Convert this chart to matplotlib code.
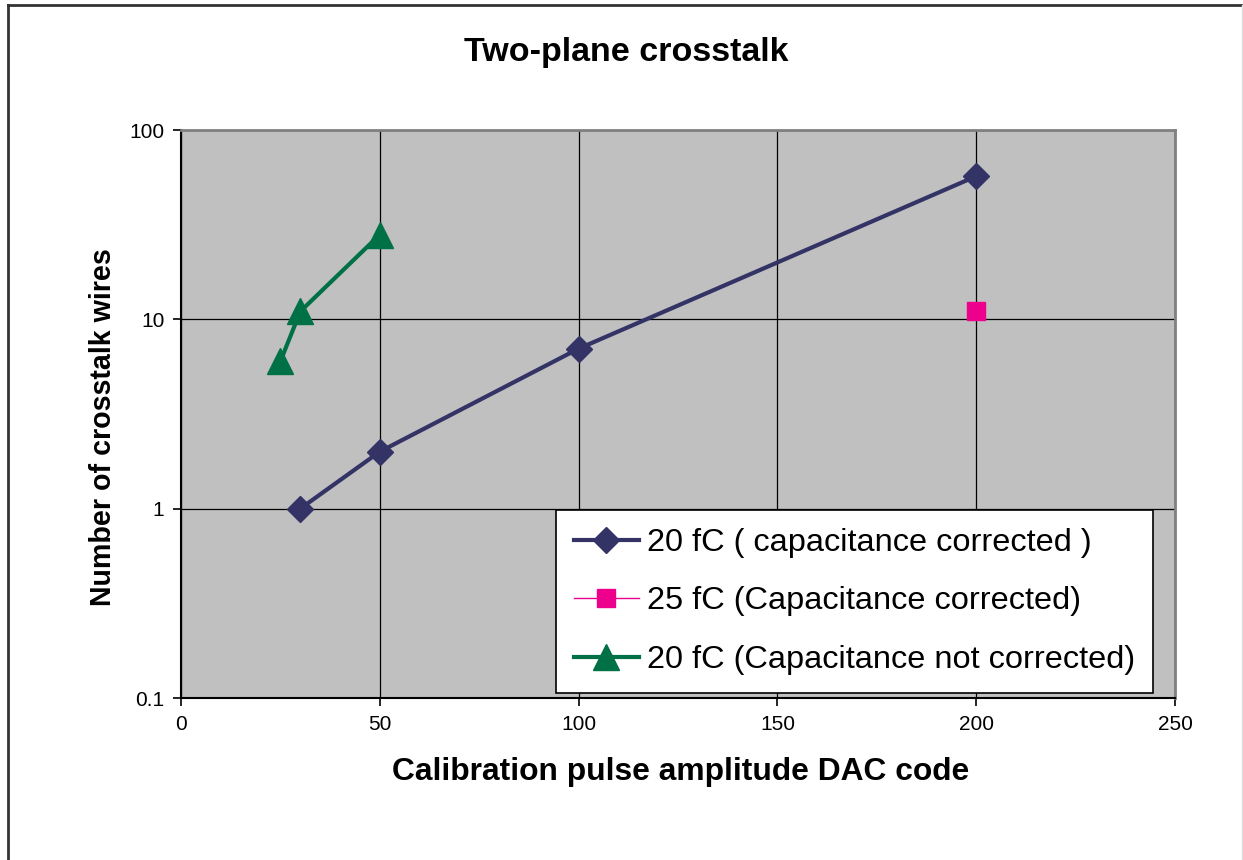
import numpy as np
import matplotlib.pyplot as plt
from matplotlib.lines import Line2D
from matplotlib.ticker import FixedLocator, FuncFormatter, NullLocator

plt.rcParams['font.family'] = ['Liberation Sans', 'DejaVu Sans']

# Data
dac_20_corr = [30, 50, 100, 200]
wires_20_corr = [1, 2, 7, 57]
dac_25_corr = [200]
wires_25_corr = [11]
dac_20_nocorr = [25, 30, 50]
wires_20_nocorr = [6, 11, 28]

x_ticks = [0, 50, 100, 150, 200, 250]
y_ticks = [0.1, 1, 10, 100]

W, H = 1243, 860
fig = plt.figure(figsize=(W / 100, H / 100), dpi=100)

# Axes placed by pixel box
left, right, top, bottom = 181, 1175, 130, 698
ax = fig.add_axes([left / W, 1 - bottom / H, (right - left) / W, (bottom - top) / H])
ax.set_facecolor('#C0C0C0')

ax.plot(dac_20_corr, wires_20_corr, color='#333366', lw=3, marker='D', ms=13,
        label='20 fC ( capacitance corrected )', zorder=3)
ax.plot(dac_25_corr, wires_25_corr, color='#EC008C', lw=1, marker='s', ms=13,
        label='25 fC (Capacitance corrected)', zorder=3)
ax.plot(dac_20_nocorr, wires_20_nocorr, color='#007046', lw=3, marker='^', ms=19,
        label='20 fC (Capacitance not corrected)', zorder=3)

ax.set_yscale('log')
ax.set_xlim(0, 250)
ax.set_ylim(0.1, 100)
ax.xaxis.set_major_locator(FixedLocator(x_ticks))
ax.yaxis.set_major_locator(FixedLocator(y_ticks))
ax.yaxis.set_minor_locator(NullLocator())
ax.yaxis.set_major_formatter(FuncFormatter(lambda v, p: '%g' % v))
ax.tick_params(axis='both', direction='out', length=6, width=1.2, colors='black',
               labelsize=15, pad=6)

# Grid lines
ax.grid(True, which='major', color='black', lw=0.9)
ax.set_axisbelow(True)

# Spines
for s in ['top', 'right']:
    ax.spines[s].set_color('#808080')
    ax.spines[s].set_linewidth(2)
for s in ['left', 'bottom']:
    ax.spines[s].set_color('black')
    ax.spines[s].set_linewidth(1.5)

# Titles and labels
fig.text(626 / W, 1 - 52 / H, 'Two-plane crosstalk', ha='center', va='center',
         fontsize=24.5, fontweight='bold')
fig.text(681 / W, 1 - 772 / H, 'Calibration pulse amplitude DAC code', ha='center',
         va='center', fontsize=22.9, fontweight='bold')
fig.text(103 / W, 1 - 427 / H, 'Number of crosstalk wires', ha='center', va='center',
         rotation=90, fontsize=20.6, fontweight='bold')

# Legend
leg = ax.legend(loc='upper left', bbox_to_anchor=((556 - left) / (right - left),
                (bottom - 510) / (bottom - top)), fontsize=23.4, frameon=True,
                fancybox=False, shadow=False, framealpha=1, edgecolor='black',
                handlelength=2.0, handletextpad=0.25, labelspacing=0.88,
                borderpad=0.55, borderaxespad=0, numpoints=1)
leg.get_frame().set_linewidth(1.2)
leg.set_zorder(5)

# Outer frame lines of the original chart area
fig.add_artist(Line2D([8 / W, 8 / W], [0, 1 - 5 / H], color='#333333', lw=2,
                      transform=fig.transFigure))
fig.add_artist(Line2D([8 / W, 1], [1 - 5 / H, 1 - 5 / H], color='#333333', lw=2,
                      transform=fig.transFigure))
fig.add_artist(Line2D([1242 / W, 1242 / W], [0, 1 - 5 / H], color='#dddddd', lw=1,
                      transform=fig.transFigure))

fig.savefig('out.png', dpi=100)
